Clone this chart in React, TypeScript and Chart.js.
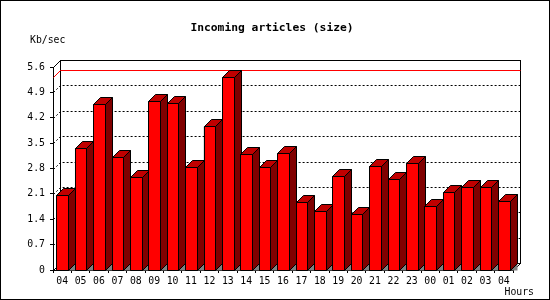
import React, { useEffect, useRef } from "react";
import { Chart, registerables } from "chart.js";

Chart.register(...registerables);

const hours = ["04","05","06","07","08","09","10","11","12","13","14","15","16","17","18","19","20","21","22","23","00","01","02","03","04"];
const kbPerSec = [2.06, 3.36, 4.57, 3.11, 2.56, 4.66, 4.61, 2.83, 3.96, 5.32, 3.19, 2.83, 3.22, 1.87, 1.62, 2.58, 1.54, 2.86, 2.50, 2.94, 1.76, 2.14, 2.28, 2.28, 1.90];
const yMax = 5.6;
const yStep = 0.7;
const titleText = "Incoming articles (size)";
const yUnit = "Kb/sec";
const xUnit = "Hours";

const DEPTH = 7;
const MONO = "'DejaVu Sans Mono', 'Liberation Mono', monospace";

const px = (v: number) => Math.round(v) + 0.5;

const box3d = {
  id: "box3d",
  beforeDraw(chart: any) {
    const { ctx, width, height } = chart;
    ctx.save();
    ctx.fillStyle = "#ffffff";
    ctx.fillRect(0, 0, width, height);
    ctx.restore();
  },
  beforeDatasetsDraw(chart: any) {
    const { ctx, chartArea, scales } = chart;
    const ys = scales.y;
    const L = px(chartArea.left), R = px(chartArea.right);
    const T = px(chartArea.top), B = px(chartArea.bottom);
    const D = DEPTH;
    ctx.save();
    ctx.lineWidth = 1;
    // dashed grid lines
    ctx.strokeStyle = "#000";
    ctx.setLineDash([2, 2]);
    ys.ticks.forEach((t: any) => {
      if (t.value <= 0 || t.value >= yMax - 1e-6) return;
      const yy = px(ys.getPixelForValue(t.value));
      ctx.beginPath();
      ctx.moveTo(L, yy); ctx.lineTo(L + D, yy - D); ctx.lineTo(R + D, yy - D);
      ctx.stroke();
    });
    ctx.setLineDash([]);
    // back wall & edges
    ctx.strokeStyle = "#000";
    ctx.strokeRect(L + D, T - D, R - L, B - T);
    ctx.beginPath();
    ctx.moveTo(L, T); ctx.lineTo(L + D, T - D);
    ctx.moveTo(L, B); ctx.lineTo(L + D, B - D);
    ctx.moveTo(R, B); ctx.lineTo(R + D, B - D);
    ctx.stroke();
    // max line
    const maxV = Math.max(...kbPerSec);
    const ym = px(ys.getPixelForValue(maxV));
    ctx.strokeStyle = "#ff0000";
    ctx.beginPath();
    ctx.moveTo(L, ym); ctx.lineTo(L + D, ym - D); ctx.lineTo(R + D, ym - D);
    ctx.stroke();
    ctx.restore();
  },
  afterDatasetsDraw(chart: any) {
    const { ctx } = chart;
    const D = DEPTH;
    const meta = chart.getDatasetMeta(0);
    ctx.save();
    ctx.lineWidth = 1;
    ctx.strokeStyle = "#000";
    meta.data.forEach((el: any) => {
      const p = el.getProps(["x", "y", "base", "width"], true);
      const x0 = px(p.x - p.width / 2), x1 = px(p.x + p.width / 2);
      const yt = px(p.y), yb = px(p.base);
      // floor shadow
      ctx.fillStyle = "#808080";
      ctx.beginPath();
      ctx.moveTo(x1, yb); ctx.lineTo(x1 + D, yb); ctx.lineTo(x1 + D, yb - D);
      ctx.closePath(); ctx.fill();
      // front
      ctx.fillStyle = "#ff0000";
      ctx.beginPath();
      ctx.rect(x0, yt, x1 - x0, yb - yt);
      ctx.fill(); ctx.stroke();
      // top
      ctx.fillStyle = "#c00000";
      ctx.beginPath();
      ctx.moveTo(x0, yt); ctx.lineTo(x0 + D, yt - D); ctx.lineTo(x1 + D, yt - D); ctx.lineTo(x1, yt);
      ctx.closePath(); ctx.fill(); ctx.stroke();
      // side
      ctx.fillStyle = "#800000";
      ctx.beginPath();
      ctx.moveTo(x1, yt); ctx.lineTo(x1 + D, yt - D); ctx.lineTo(x1 + D, yb - D); ctx.lineTo(x1, yb);
      ctx.closePath(); ctx.fill(); ctx.stroke();
    });
    ctx.restore();
  },
  afterDraw(chart: any) {
    const { ctx, width, height } = chart;
    ctx.save();
    ctx.fillStyle = "#000";
    ctx.textBaseline = "alphabetic";
    ctx.font = `bold 11.3px ${MONO}`;
    ctx.textAlign = "center";
    ctx.fillText(titleText, 272, 31);
    ctx.font = `9.8px ${MONO}`;
    ctx.textAlign = "left";
    ctx.fillText(yUnit, 30, 43);
    ctx.textAlign = "right";
    ctx.fillText(xUnit, 534, 295);
    ctx.strokeStyle = "#000";
    ctx.lineWidth = 1;
    ctx.strokeRect(0.5, 0.5, width - 1, height - 1);
    ctx.restore();
  },
};

export default function App() {
  const ref = useRef<HTMLCanvasElement | null>(null);
  useEffect(() => {
    if (!ref.current) return;
    const chart = new Chart(ref.current, {
      type: "bar",
      data: {
        labels: hours,
        datasets: [
          {
            data: kbPerSec,
            backgroundColor: "#ff0000",
            borderColor: "#000",
            borderWidth: 1,
            barPercentage: 0.625,
            categoryPercentage: 1,
          },
        ],
      },
      options: {
        animation: false,
        responsive: false,
        devicePixelRatio: 1,
        layout: { padding: { top: 67, right: 37, left: 0, bottom: 0 } },
        plugins: { legend: { display: false }, tooltip: { enabled: false }, title: { display: false } },
        scales: {
          x: {
            offset: true,
            grid: { offset: true, drawOnChartArea: false, drawTicks: true, tickLength: 3, color: "#000" },
            border: { color: "#000", width: 1 },
            ticks: { font: { family: MONO, size: 9.8 }, color: "#000", padding: 3, maxRotation: 0, autoSkip: false },
            afterFit: (s: any) => { s.height = 30; },
          },
          y: {
            min: 0,
            max: yMax,
            grid: { drawOnChartArea: false, drawTicks: true, tickLength: 3, color: "#000" },
            border: { color: "#000", width: 1 },
            ticks: {
              stepSize: yStep,
              font: { family: MONO, size: 9.8 },
              color: "#000",
              padding: 5,
              callback: (v: any) => String(Number(Number(v).toFixed(1))),
            },
            afterFit: (s: any) => { s.width = 53; },
          },
        },
      },
      plugins: [box3d],
    });
    return () => chart.destroy();
  }, []);
  return (
    <div style={{ position: "fixed", left: 0, top: 0, width: 550, height: 300 }}>
      <canvas ref={ref} width={550} height={300} style={{ display: "block" }} />
    </div>
  );
}
